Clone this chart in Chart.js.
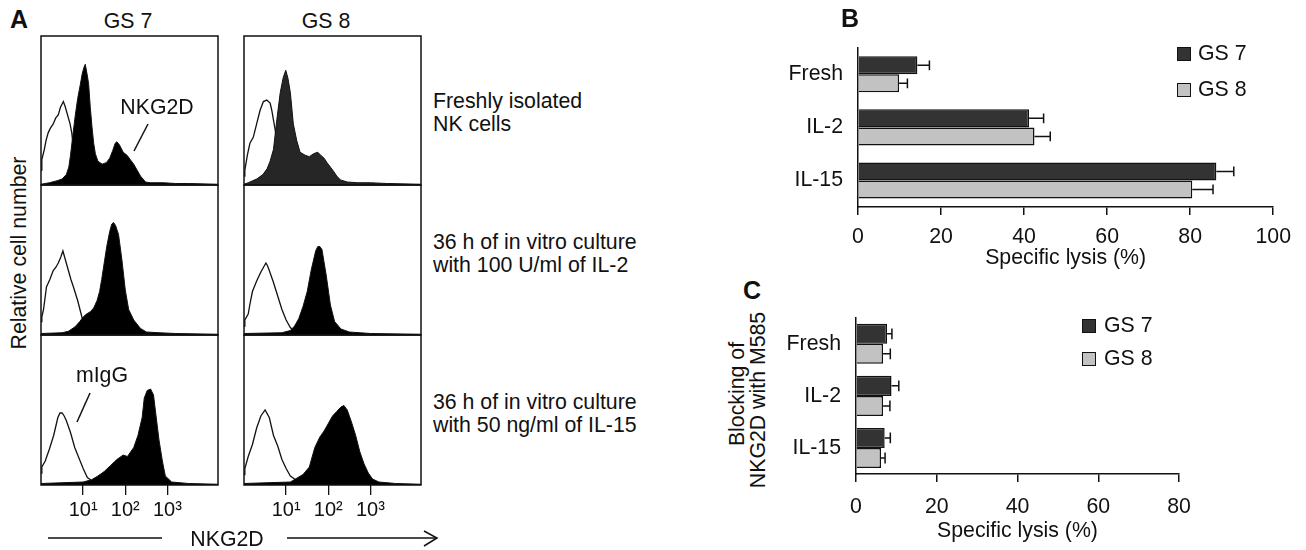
<!DOCTYPE html>
<html>
<head>
<meta charset="utf-8">
<script src="https://cdn.jsdelivr.net/npm/chart.js@4.4.1/dist/chart.umd.min.js"></script>
<style>
  body { margin: 0; background: #fff; }
  #fig { position: relative; width: 1306px; height: 550px; overflow: hidden;
         font-family: "Liberation Sans", Arial, sans-serif; color: #111; }
  .box { position: absolute; }
  .t { position: absolute; font-size: 21.3px; line-height: 23.4px; white-space: nowrap; }
  .c { transform: translate(-50%, -50%); }
  .lbl { font-weight: bold; font-size: 25px; }
  .rot { transform: translate(-50%, -50%) rotate(-90deg); text-align: center; }
  .sq { position: absolute; width: 12px; height: 12px; border: 1.5px solid #111; }
  svg { position: absolute; left: 0; top: 0; pointer-events: none; }
</style>
</head>
<body>
<div id="fig">
  <!-- panel A: flow histograms -->
  <div class="box" style="left:40px;top:35px;width:179px;height:151px"><canvas id="h1"></canvas></div>
  <div class="box" style="left:243px;top:35px;width:179px;height:151px"><canvas id="h2"></canvas></div>
  <div class="box" style="left:40px;top:184px;width:179px;height:152px"><canvas id="h3"></canvas></div>
  <div class="box" style="left:243px;top:184px;width:179px;height:152px"><canvas id="h4"></canvas></div>
  <div class="box" style="left:40px;top:334px;width:179px;height:196px"><canvas id="h5"></canvas></div>
  <div class="box" style="left:243px;top:334px;width:179px;height:196px"><canvas id="h6"></canvas></div>

  <!-- panels B and C -->
  <div class="box" style="left:780px;top:20px;width:520px;height:260px"><canvas id="lysis"></canvas></div>
  <div class="box" style="left:780px;top:290px;width:430px;height:260px"><canvas id="block"></canvas></div>

  <div class="t lbl c" style="left:19px;top:20px">A</div>
  <div class="t lbl c" style="left:850px;top:19px">B</div>
  <div class="t lbl c" style="left:752px;top:291px">C</div>

  <div class="t c" style="left:128px;top:22px">GS 7</div>
  <div class="t c" style="left:326px;top:22px">GS 8</div>
  <div class="t rot" style="left:20px;top:253px">Relative cell number</div>
  <div class="t c" style="left:157px;top:108px">NKG2D</div>
  <div class="t c" style="left:102px;top:376px">mIgG</div>
  <div class="t c" style="left:227px;top:540px">NKG2D</div>

  <div class="t" style="left:433px;top:90px">Freshly isolated<br>NK cells</div>
  <div class="t" style="left:433px;top:231px">36 h of in vitro culture<br>with 100 U/ml of IL-2</div>
  <div class="t" style="left:433px;top:391px">36 h of in vitro culture<br>with 50 ng/ml of IL-15</div>

  <div class="t rot" style="left:737px;top:394px;line-height:21px">Blocking of</div>
  <div class="t rot" style="left:758px;top:400px;line-height:21px">NKG2D with M585</div>

  <div class="sq" style="left:1177px;top:47px;background:#333"></div>
  <div class="sq" style="left:1177px;top:83px;background:#c2c2c2"></div>
  <div class="t" style="left:1198px;top:42px">GS 7</div>
  <div class="t" style="left:1198px;top:78px">GS 8</div>

  <div class="sq" style="left:1082px;top:319px;background:#333"></div>
  <div class="sq" style="left:1082px;top:352px;background:#c2c2c2"></div>
  <div class="t" style="left:1104px;top:314px">GS 7</div>
  <div class="t" style="left:1104px;top:347px">GS 8</div>

  <svg width="1306" height="550">
    <g stroke="#111" stroke-width="1.5" fill="none">
      <line x1="148" y1="124" x2="134" y2="151"/>
      <line x1="90" y1="393" x2="77" y2="422"/>
      <line x1="48" y1="538" x2="162" y2="538"/>
      <line x1="287" y1="538" x2="436" y2="538"/>
      <polyline points="424,531 437,538 424,546"/>
    </g>
  </svg>
</div>

<script>
// ---- data ----
// histogram points: [log10 fluorescence, % of panel height]
const freshGS7Nkg2d = [[0,0.5],[0.2,1.5],[0.4,3],[0.5,4],[0.6,7],[0.66,12],[0.7,20],[0.75,32],[0.81,46],[0.87,58],[0.93,67],[0.98,75],[1.02,79],[1.05,81],[1.09,75],[1.13,68],[1.17,52],[1.21,39],[1.25,28],[1.29,21],[1.35,16],[1.45,14],[1.55,15],[1.63,18],[1.7,23],[1.76,28],[1.8,29],[1.86,27],[1.95,22],[2.04,20],[2.12,17],[2.2,14],[2.28,10],[2.36,6],[2.48,2],[2.6,1.5],[2.9,1.5],[3.2,1],[3.5,1],[4.2,0.5]];
const freshGS7Igg = [[0,10],[0.02,17],[0.08,24],[0.12,30],[0.17,35],[0.22,38],[0.29,41],[0.35,45],[0.41,47],[0.46,52],[0.53,56],[0.57,53],[0.61,49],[0.69,41],[0.73,35],[0.78,22],[0.85,10],[0.95,4],[1.1,1.5],[1.4,0.5],[4.2,0]];
const freshGS8Nkg2d = [[0,0.5],[0.1,1.5],[0.3,4],[0.45,7],[0.55,11],[0.62,16],[0.7,24],[0.78,44],[0.86,62],[0.93,72],[0.99,77],[1.04,72],[1.1,62],[1.17,41],[1.25,30],[1.33,22],[1.45,20],[1.55,19],[1.65,21],[1.75,22],[1.82,20],[1.9,18],[1.97,15],[2.05,12],[2.13,9],[2.2,6],[2.29,3.4],[2.45,2],[2.7,1.5],[3.0,1.5],[3.4,1],[4.2,0.5]];
const freshGS8Igg = [[0,6],[0.02,10],[0.08,20],[0.14,28],[0.22,32],[0.3,41],[0.38,50],[0.46,56],[0.54,57],[0.62,55],[0.66,50],[0.74,37],[0.8,24],[0.88,12],[0.98,5],[1.1,2],[1.4,0.5],[4.2,0]];
const il2GS7Nkg2d = [[0,1],[0.5,1.5],[0.65,2.5],[0.81,5.5],[0.92,9],[1.0,12],[1.08,14],[1.17,15.5],[1.25,18],[1.33,23],[1.39,29],[1.44,37],[1.5,48],[1.56,59],[1.63,69],[1.68,74],[1.72,75],[1.77,73],[1.84,67],[1.92,50],[2.0,30],[2.08,17],[2.2,10],[2.36,4.4],[2.5,2],[2.8,1.5],[3.2,1],[4.2,0.5]];
const il2GS7Igg = [[0,9],[0.02,12],[0.06,17],[0.13,32],[0.21,37],[0.29,43],[0.35,45],[0.41,48],[0.47,52],[0.52,56],[0.57,51],[0.65,43],[0.71,37],[0.77,32],[0.87,23],[0.97,12],[1.05,5],[1.15,2],[1.3,0.5],[4.2,0]];
const il2GS8Nkg2d = [[0,1],[0.9,1.5],[1.1,3],[1.2,6],[1.3,11],[1.4,19],[1.5,29],[1.6,44],[1.7,56],[1.75,59],[1.8,59],[1.85,57],[1.95,40],[2.05,20],[2.15,9],[2.3,4],[2.5,2],[3.0,1],[4.2,0.5]];
const il2GS8Igg = [[0,6],[0.02,10],[0.1,14],[0.15,22],[0.2,29],[0.3,36],[0.4,42],[0.46,45],[0.52,48],[0.56,46],[0.6,43],[0.7,35],[0.8,26],[0.9,17],[1.0,10],[1.1,5],[1.2,2],[1.4,0.5],[4.2,0]];
const il15GS7Nkg2d = [[0,1],[1.0,2],[1.2,3.5],[1.35,6],[1.5,9],[1.65,13],[1.8,17],[1.95,20],[2.05,19],[2.2,25],[2.3,33],[2.4,45],[2.45,58],[2.52,63],[2.6,64],[2.67,60],[2.73,46],[2.8,30],[2.88,16],[2.95,6],[3.1,2],[3.5,1],[4.2,0.5]];
const il15GS7Igg = [[0,8],[0.02,12],[0.1,16],[0.2,24],[0.3,33],[0.4,45],[0.45,48],[0.5,48],[0.55,46],[0.6,43],[0.7,35],[0.8,25],[0.9,18],[1.0,11],[1.1,5],[1.2,3],[1.3,2],[1.5,0.5],[4.2,0]];
const il15GS8Nkg2d = [[0,1],[1.1,2],[1.25,4.5],[1.4,7],[1.55,12],[1.68,25],[1.8,32],[1.9,36],[2.0,41],[2.1,46],[2.2,49],[2.3,52],[2.37,53],[2.45,50],[2.55,42],[2.65,33],[2.75,22],[2.85,14],[2.95,8],[3.05,4],[3.2,2],[3.6,1],[4.2,0.5]];
const il15GS8Igg = [[0,7],[0.02,11],[0.1,19],[0.2,27],[0.3,38],[0.4,46],[0.5,50],[0.6,45],[0.7,33],[0.8,26],[0.9,17],[1.0,11],[1.1,6],[1.2,4],[1.4,1],[1.6,0.5],[4.2,0]];

const decadeTicks = [10, 100, 1000];
const decadeLabels = ['10\u00b9', '10\u00b2', '10\u00b3'];

// cytotoxicity (panels B, C)
const groups = ['Fresh', 'IL-2', 'IL-15'];
const lysisGS7 = [14.3, 41.2, 86.3];
const lysisGS8 = [9.9, 42.5, 80.5];
const lysisErrGS7 = [2.9, 3.5, 4.2];
const lysisErrGS8 = [2.0, 3.8, 5.0];
const blockGS7 = [7.7, 8.8, 7.1];
const blockGS8 = [6.7, 6.7, 6.2];
const blockErrGS7 = [1.2, 1.8, 1.4];
const blockErrGS8 = [1.8, 1.7, 1.0];

// ---- drawing ----
const FONT = { family: "'Liberation Sans', Arial, sans-serif", size: 21.3 };
const TICKFONT = { family: "'Liberation Sans', Arial, sans-serif", size: 20 };
const INK = '#111';

const frame = {
  id: 'frame',
  afterDraw(chart) {
    const a = chart.chartArea, ctx = chart.ctx;
    ctx.save();
    ctx.strokeStyle = INK;
    ctx.lineWidth = 1.5;
    ctx.strokeRect(a.left, a.top, a.right - a.left, a.bottom - a.top);
    ctx.restore();
  }
};

const errorBars = {
  id: 'errorBars',
  afterDatasetsDraw(chart, args, opts) {
    const ctx = chart.ctx, xs = chart.scales.x;
    ctx.save();
    ctx.strokeStyle = INK;
    ctx.lineWidth = 1.5;
    chart.data.datasets.forEach((ds, i) => {
      chart.getDatasetMeta(i).data.forEach((bar, j) => {
        const x2 = xs.getPixelForValue(ds.data[j] + opts.errors[i][j]);
        const cap = bar.height * 0.27;
        ctx.beginPath();
        ctx.moveTo(bar.x, bar.y);
        ctx.lineTo(x2, bar.y);
        ctx.moveTo(x2, bar.y - cap);
        ctx.lineTo(x2, bar.y + cap);
        ctx.stroke();
      });
    });
    ctx.restore();
  }
};

const toPoints = pts => pts.map(([d, y]) => ({ x: Math.pow(10, d), y: y }));

function histogram(id, nkg2d, igg, fillColor, showAxis) {
  new Chart(document.getElementById(id), {
    type: 'line',
    data: {
      datasets: [
        { data: toPoints(nkg2d), fill: 'origin', backgroundColor: fillColor, borderColor: INK, borderWidth: 1 },
        { data: toPoints(igg), fill: false, borderColor: INK, borderWidth: 1.3 }
      ]
    },
    options: {
      animation: false,
      responsive: true,
      maintainAspectRatio: false,
      events: [],
      layout: { padding: { left: 1, right: 1, top: 1, bottom: showAxis ? 0 : 1 } },
      elements: { point: { radius: 0 }, line: { tension: 0 } },
      plugins: { legend: { display: false }, tooltip: { enabled: false } },
      scales: {
        x: {
          type: 'logarithmic', min: 1, max: Math.pow(10, 4.2), display: showAxis,
          afterBuildTicks: s => { s.ticks = decadeTicks.map(v => ({ value: v })); },
          afterFit: s => { s.height = showAxis ? 45 : 0; },
          grid: { drawOnChartArea: false, tickLength: 10, color: INK, lineWidth: 1.3 },
          border: { display: false },
          ticks: { color: INK, font: TICKFONT, padding: 3, maxRotation: 0, autoSkip: false,
                   callback: (v, i) => decadeLabels[i] }
        },
        y: { display: false, min: 0, max: 100 }
      }
    },
    plugins: [frame]
  });
}

histogram('h1', freshGS7Nkg2d, freshGS7Igg, '#000', false);
histogram('h2', freshGS8Nkg2d, freshGS8Igg, '#262626', false);
histogram('h3', il2GS7Nkg2d, il2GS7Igg, '#000', false);
histogram('h4', il2GS8Nkg2d, il2GS8Igg, '#000', false);
histogram('h5', il15GS7Nkg2d, il15GS7Igg, '#000', true);
histogram('h6', il15GS8Nkg2d, il15GS8Igg, '#000', true);

function lysisChart(id, gs7, gs8, err7, err8, xMax, catPct, pad, yWidth, xHeight, tickPad, titlePad) {
  new Chart(document.getElementById(id), {
    type: 'bar',
    data: {
      labels: groups,
      datasets: [
        { label: 'GS 7', data: gs7, backgroundColor: '#333', borderColor: INK, borderWidth: 1.5 },
        { label: 'GS 8', data: gs8, backgroundColor: '#c2c2c2', borderColor: INK, borderWidth: 1.5 }
      ]
    },
    options: {
      indexAxis: 'y',
      animation: false,
      responsive: true,
      maintainAspectRatio: false,
      events: [],
      layout: { padding: pad },
      datasets: { bar: { categoryPercentage: catPct, barPercentage: 1 } },
      plugins: {
        legend: { display: false },
        tooltip: { enabled: false },
        errorBars: { errors: [err7, err8] }
      },
      scales: {
        x: {
          min: 0, max: xMax,
          afterFit: s => { s.height = xHeight; },
          grid: { drawOnChartArea: false, tickLength: 8, color: INK, lineWidth: 1.5 },
          border: { display: true, color: INK, width: 1.5 },
          ticks: { stepSize: 20, color: INK, font: FONT, padding: tickPad, maxRotation: 0 },
          title: { display: true, text: 'Specific lysis (%)', color: INK, font: FONT,
                   padding: { top: 0, bottom: titlePad } }
        },
        y: {
          afterFit: s => { s.width = yWidth; },
          grid: { display: false, drawTicks: false },
          border: { display: true, color: INK, width: 1.5 },
          ticks: { color: INK, font: FONT, padding: 15 }
        }
      }
    },
    plugins: [errorBars]
  });
}

lysisChart('lysis', lysisGS7, lysisGS8, lysisErrGS7, lysisErrGS8, 100, 0.68,
           { top: 12, right: 22, left: 0, bottom: 0 }, 78, 73, 9, 9);
lysisChart('block', blockGS7, blockGS8, blockErrGS7, blockErrGS8, 80, 0.77,
           { top: 16, right: 31, left: 0, bottom: 0 }, 76, 76, 12, 6);
</script>
</body>
</html>
